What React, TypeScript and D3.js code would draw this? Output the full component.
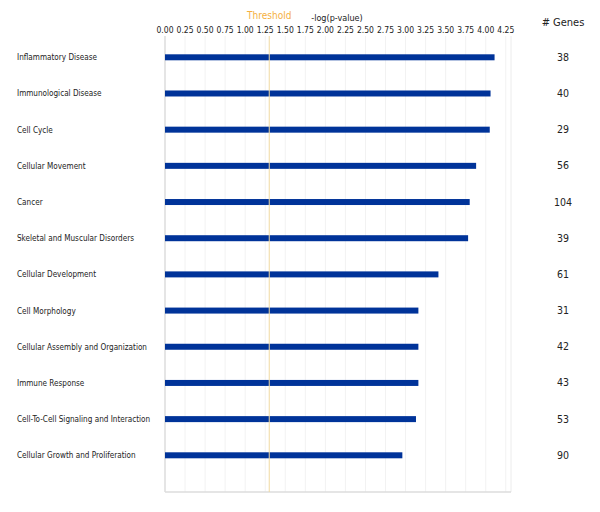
import * as d3 from "d3";

const categories = [
  "Inflammatory Disease",
  "Immunological Disease",
  "Cell Cycle",
  "Cellular Movement",
  "Cancer",
  "Skeletal and Muscular Disorders",
  "Cellular Development",
  "Cell Morphology",
  "Cellular Assembly and Organization",
  "Immune Response",
  "Cell-To-Cell Signaling and Interaction",
  "Cellular Growth and Proliferation",
];

const logP = [4.11, 4.06, 4.05, 3.88, 3.8, 3.78, 3.41, 3.16, 3.16, 3.16, 3.13, 2.96];

const geneCounts = [38, 40, 29, 56, 104, 39, 61, 31, 42, 43, 53, 90];

const xTicks = [0, 0.25, 0.5, 0.75, 1, 1.25, 1.5, 1.75, 2, 2.25, 2.5, 2.75, 3, 3.25, 3.5, 3.75, 4, 4.25];

const threshold = 1.3;

const W = 600;
const H = 512;
const plotLeft = 165;
const plotRight = 511;
const plotTop = 36;
const plotBottom = 492;

const FONT = "Tahoma, 'DejaVu Sans Condensed', 'DejaVu Sans', sans-serif";

export default function App() {
  const x = d3.scaleLinear().domain([0, 4.315]).range([plotLeft, plotRight]);
  const y = d3.scalePoint<string>().domain(categories).range([57.3, 455.3]);

  return (
    <svg width={W} height={H} style={{ position: "absolute", left: 0, top: 0, background: "#fff" }}>
      {/* grid */}
      {xTicks.slice(1).map((t) => (
        <line key={t} x1={x(t)} x2={x(t)} y1={plotTop} y2={plotBottom} stroke="#f2f2f2" strokeWidth={1} />
      ))}
      <line x1={plotRight} x2={plotRight} y1={plotTop} y2={plotBottom} stroke="#ececec" />
      <line x1={plotLeft} x2={plotLeft} y1={plotTop} y2={plotBottom} stroke="#dcdcdc" strokeWidth={1.5} />
      <line x1={plotLeft} x2={plotRight} y1={plotBottom} y2={plotBottom} stroke="#dcdcdc" strokeWidth={1.5} />

      {/* tick labels */}
      {xTicks.map((t) => (
        <text key={t} x={x(t)} y={33} textAnchor="middle" fontFamily={FONT} fontSize={8.5} fill="#222">
          {d3.format(".2f")(t)}
        </text>
      ))}
      <text x={x(threshold)} y={19} textAnchor="middle" fontFamily={FONT} fontSize={10} fill="#f5b041">
        Threshold
      </text>
      <text x={337} y={21} textAnchor="middle" fontFamily={FONT} fontSize={9} fill="#222">
        -log(p-value)
      </text>
      <text x={563} y={26} textAnchor="middle" fontFamily={FONT} fontSize={11} fill="#222">
        # Genes
      </text>

      {/* bars */}
      {categories.map((c, i) => (
        <rect key={c} x={x(0)} y={(y(c) ?? 0) - 3} width={x(logP[i]) - x(0)} height={6} fill="#003399" />
      ))}

      {/* threshold line */}
      <line x1={x(threshold)} x2={x(threshold)} y1={plotTop} y2={plotBottom} stroke="#f0d9a0" strokeWidth={1} />

      {/* category labels */}
      {categories.map((c) => (
        <text key={c} x={17} y={(y(c) ?? 0) + 3} fontFamily={FONT} fontSize={8.1} fill="#222">
          {c}
        </text>
      ))}

      {/* gene counts */}
      {categories.map((c, i) => (
        <text key={c} x={563} y={(y(c) ?? 0) + 3.5} textAnchor="middle" fontFamily={FONT} fontSize={10.5} fill="#222">
          {geneCounts[i]}
        </text>
      ))}
    </svg>
  );
}
